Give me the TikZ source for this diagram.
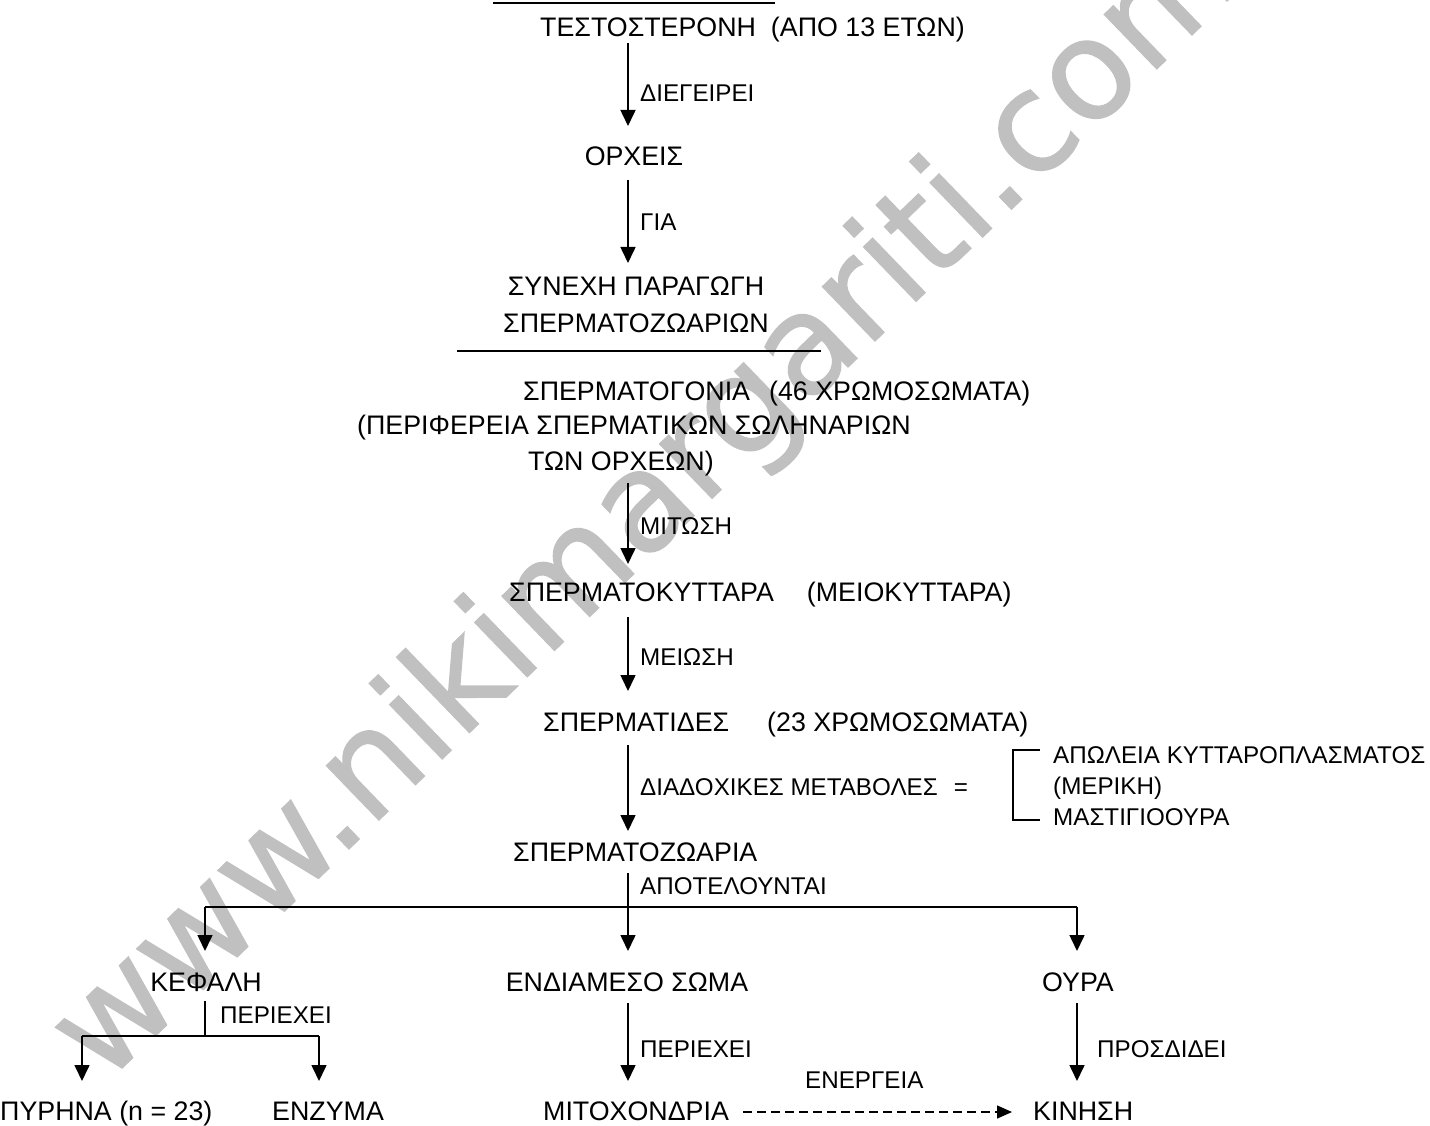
\documentclass[tikz,border=0pt]{standalone}
\usepackage{fontspec}
\setmainfont{Liberation Sans}
\newfontfamily\wmfont[FakeBold=1]{DejaVu Sans}
\usetikzlibrary{arrows.meta}
\definecolor{wm}{RGB}{192,192,192}
\begin{document}
\begin{tikzpicture}[x=1pt,y=-1pt,
  main/.style={font=\fontsize{26.8}{36.5}\selectfont, inner sep=0pt, anchor=base west},
  lbl/.style={font=\fontsize{24.2}{28}\selectfont, inner sep=0pt, anchor=base west},
  arr/.style={line width=1.6pt, -{Triangle[length=16pt,width=15pt]}},
  ln/.style={line width=1.6pt},
  dsh/.style={line width=1.4pt, dash pattern=on 9pt off 5pt, -{Triangle[length=15pt,width=13pt]}}]
\useasboundingbox (0,0) rectangle (1430,1126);
% watermark
\node[font=\wmfont\fontsize{138}{138}\selectfont, text=wm, rotate=44, anchor=base, inner sep=0pt] (wmark) at (674,535) {www.nikimargariti.com};

% top
\coordinate (t1) at (493,3); \coordinate (t2) at (775,3);
\draw[ln] (t1) -- (t2);
\node[main] (testo) at (540,36.5) {ΤΕΣΤΟΣΤΕΡΟΝΗ\hspace{15pt}(ΑΠΟ 13 ΕΤΩΝ)};
\coordinate (a1s) at (628,43); \coordinate (a1e) at (628,126);
\draw[arr] (a1s) -- (a1e);
\node[lbl] (l1) at (640,102) {ΔΙΕΓΕΙΡΕΙ};
\node[main, anchor=base] (orch) at (634,166) {ΟΡΧΕΙΣ};
\coordinate (a2s) at (628,180); \coordinate (a2e) at (628,263);
\draw[arr] (a2s) -- (a2e);
\node[lbl] (l2) at (640,231) {ΓΙΑ};
\node[main, anchor=center, align=center] (syn) at (636,305) {ΣΥΝΕΧΗ ΠΑΡΑΓΩΓΗ\\ΣΠΕΡΜΑΤΟΖΩΑΡΙΩΝ};
\coordinate (h1) at (457,351); \coordinate (h2) at (821,351);
\draw[ln] (h1) -- (h2);

% spermatogonia
\node[main] (spg1) at (523,400) {ΣΠΕΡΜΑΤΟΓΟΝΙΑ\hspace{19pt}(46 ΧΡΩΜΟΣΩΜΑΤΑ)};
\node[main] (spg2) at (357,434) {(ΠΕΡΙΦΕΡΕΙΑ ΣΠΕΡΜΑΤΙΚΩΝ ΣΩΛΗΝΑΡΙΩΝ};
\node[main] (spg3) at (528,470) {ΤΩΝ ΟΡΧΕΩΝ)};
\coordinate (a3s) at (628,483); \coordinate (a3e) at (628,564);
\draw[arr] (a3s) -- (a3e);
\node[lbl] (l3) at (640,534) {ΜΙΤΩΣΗ};

\node[main] (spk) at (509,601) {ΣΠΕΡΜΑΤΟΚΥΤΤΑΡΑ\hspace{33pt}(ΜΕΙΟΚΥΤΤΑΡΑ)};
\coordinate (a4s) at (628,617); \coordinate (a4e) at (628,691);
\draw[arr] (a4s) -- (a4e);
\node[lbl] (l4) at (640,665) {ΜΕΙΩΣΗ};

\node[main] (spd) at (543,731) {ΣΠΕΡΜΑΤΙΔΕΣ\hspace{38pt}(23 ΧΡΩΜΟΣΩΜΑΤΑ)};
\coordinate (a5s) at (628,745); \coordinate (a5e) at (628,831);
\draw[arr] (a5s) -- (a5e);
\node[lbl] (l5) at (640,795) {ΔΙΑΔΟΧΙΚΕΣ ΜΕΤΑΒΟΛΕΣ\hspace{16pt}=};

% bracket
\coordinate (b1) at (1040,750); \coordinate (b2) at (1013,750);
\coordinate (b3) at (1013,820); \coordinate (b4) at (1040,820);
\draw[line width=1.4pt] (b1) -- (b2) -- (b3) -- (b4);
\node[lbl] (r1) at (1053,763) {ΑΠΩΛΕΙΑ ΚΥΤΤΑΡΟΠΛΑΣΜΑΤΟΣ};
\node[lbl] (r2) at (1053,794) {(ΜΕΡΙΚΗ)};
\node[lbl] (r3) at (1053,825) {ΜΑΣΤΙΓΙΟΟΥΡΑ};

% spermatozoaria
\node[main] (spz) at (513,861) {ΣΠΕΡΜΑΤΟΖΩΑΡΙΑ};
\coordinate (s0) at (628,873); \coordinate (sj) at (628,907);
\coordinate (sl) at (205,907); \coordinate (sr) at (1077,907);
\draw[ln] (s0) -- (sj);
\node[lbl] (l6) at (640,894) {ΑΠΟΤΕΛΟΥΝΤΑΙ};
\draw[ln] (sl) -- (sr);
\coordinate (kt) at (205,951); \coordinate (et) at (628,951); \coordinate (ot) at (1077,951);
\draw[arr] (sl) -- (kt);
\draw[arr] (sj) -- (et);
\draw[arr] (sr) -- (ot);

\node[main, anchor=base] (kef) at (206,991) {ΚΕΦΑΛΗ};
\node[main, anchor=base] (end) at (627,991) {ΕΝΔΙΑΜΕΣΟ ΣΩΜΑ};
\node[main, anchor=base] (our) at (1078,991) {ΟΥΡΑ};

% head
\coordinate (k0) at (205,1001); \coordinate (kj) at (205,1036);
\coordinate (kl) at (82,1036); \coordinate (kr) at (319,1036);
\draw[ln] (k0) -- (kj);
\draw[ln] (kl) -- (kr);
\node[lbl] (l7) at (220,1023) {ΠΕΡΙΕΧΕΙ};
\coordinate (pt) at (82,1081); \coordinate (zt) at (319,1081);
\draw[arr] (kl) -- (pt);
\draw[arr] (kr) -- (zt);
\node[main] (pyr) at (0,1120) {ΠΥΡΗΝΑ (n = 23)};
\node[main] (enz) at (272,1120) {ΕΝΖΥΜΑ};

% middle piece
\coordinate (m0) at (628,1003); \coordinate (mt) at (628,1081);
\draw[arr] (m0) -- (mt);
\node[lbl] (l8) at (640,1057) {ΠΕΡΙΕΧΕΙ};
\node[main] (mit) at (543,1120) {ΜΙΤΟΧΟΝΔΡΙΑ};

% tail
\coordinate (o0) at (1077,1003); \coordinate (ote) at (1077,1081);
\draw[arr] (o0) -- (ote);
\node[lbl] (l9) at (1097,1057) {ΠΡΟΣΔΙΔΕΙ};
\node[main] (kin) at (1033,1120) {ΚΙΝΗΣΗ};

% energy
\coordinate (e1) at (743,1112); \coordinate (e2) at (1012,1112);
\draw[dsh] (e1) -- (e2);
\node[lbl] (l10) at (805,1088) {ΕΝΕΡΓΕΙΑ};
\end{tikzpicture}
\end{document}
